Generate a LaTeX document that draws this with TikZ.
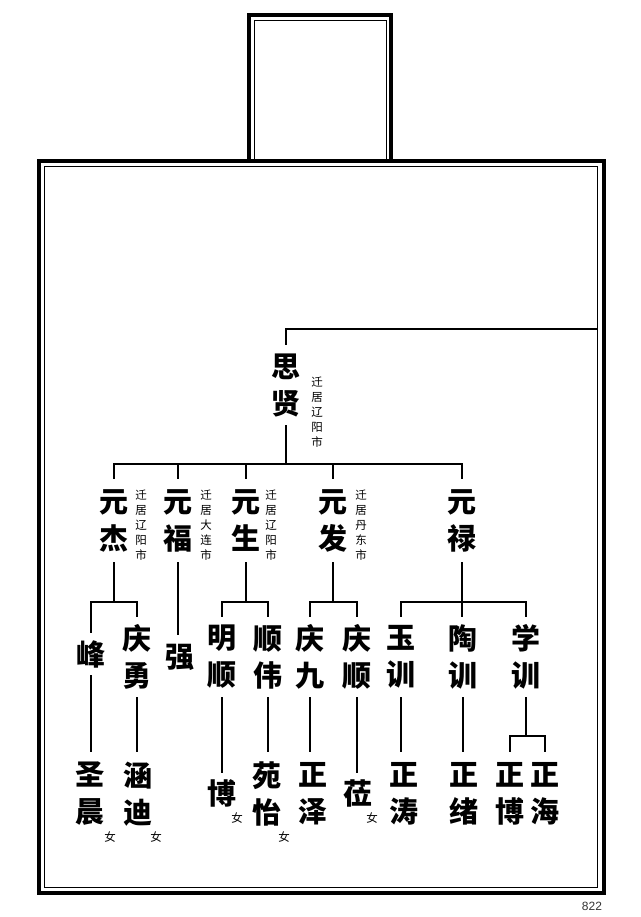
\documentclass[tikz,border=0pt]{standalone}
\usepackage{fontspec}
\newfontfamily\cjk{Noto Sans CJK SC}
\newfontfamily\numfont{Liberation Sans}
\begin{document}
\begin{tikzpicture}[x=1pt,y=-1pt,
  nm/.style={inner sep=0pt, align=center, font=\cjk\bfseries\fontsize{29}{37}\selectfont},
  ann/.style={inner sep=0pt, align=center, font=\cjk\fontsize{11.5}{15}\selectfont},
  fem/.style={inner sep=0pt, font=\cjk\fontsize{11.5}{11.5}\selectfont},
  ln/.style={line width=1.1pt},
  thickframe/.style={line width=4pt},
  thinframe/.style={line width=1pt}]
\useasboundingbox (0,0) rectangle (640,917);
% frames
\draw[thickframe] (39,161.5) rectangle (603.5,893);
\draw[thinframe] (44,167) rectangle (597.5,887.5);
\draw[thickframe] (249,161.5) |- (390.5,15) -- (390.5,161.5);
\draw[thinframe] (254.5,161.5) |- (386,20.5) -- (386,161.5);
% root
\node[nm, minimum height=80pt] (sx) at (286,385) {思\\贤};
\node[ann] (sxa) at (317,412) {迁\\居\\辽\\阳\\市};
\coordinate (edge) at (597.5,329);
\draw[ln] (sx.north) |- (edge);
% row 2
\node[nm, minimum height=83pt] (yj) at (114,520.5) {元\\杰};
\node[ann] (yja) at (141,525) {迁\\居\\辽\\阳\\市};
\node[nm, minimum height=83pt] (yf) at (178,520.5) {元\\福};
\node[ann] (yfa) at (206,525) {迁\\居\\大\\连\\市};
\node[nm, minimum height=83pt] (ys) at (246,520.5) {元\\生};
\node[ann] (ysa) at (271,525) {迁\\居\\辽\\阳\\市};
\node[nm, minimum height=83pt] (yd) at (333,520.5) {元\\发};
\node[ann] (yda) at (361,525) {迁\\居\\丹\\东\\市};
\node[nm, minimum height=83pt] (yl) at (462,520.5) {元\\禄};
\coordinate (b1) at (286,464);
\draw[ln] (sx.south) -- (b1);
\draw[ln] (yj.north) |- (yl.north |- b1) -- (yl.north);
\foreach \n in {yf,ys,yd} \draw[ln] (\n.north) -- (\n.north |- b1);
% row 3
\coordinate (b2) at (0,602);
\node[nm, minimum height=42pt] (feng) at (91,654) {峰};
\node[nm, minimum height=80pt] (qy) at (137,657) {庆\\勇};
\node[nm, minimum height=44pt] (qiang) at (180,657) {强};
\node[nm, minimum height=80pt] (ms) at (222,657) {明\\顺};
\node[nm, minimum height=80pt] (sw) at (268,657) {顺\\伟};
\node[nm, minimum height=80pt] (qj) at (310,657) {庆\\九};
\node[nm, minimum height=80pt] (qs) at (357,657) {庆\\顺};
\node[nm, minimum height=80pt] (yx) at (401,657) {玉\\训};
\node[nm, minimum height=80pt] (tx) at (463,657) {陶\\训};
\node[nm, minimum height=80pt] (xx) at (526,657) {学\\训};
\draw[ln] (yj.south) -- (yj.south |- b2);
\draw[ln] (feng.north) |- (qy.north |- b2) -- (qy.north);
\draw[ln] (yf.south) -- (yf.south |- qiang.north);
\draw[ln] (ys.south) -- (ys.south |- b2);
\draw[ln] (ms.north) |- (sw.north |- b2) -- (sw.north);
\draw[ln] (yd.south) -- (yd.south |- b2);
\draw[ln] (qj.north) |- (qs.north |- b2) -- (qs.north);
\draw[ln] (yl.south) -- (yl.south |- tx.north);
\draw[ln] (yx.north) |- (xx.north |- b2) -- (xx.north);
% row 4
\node[nm, minimum height=84pt] (sc) at (90,794) {圣\\晨};
\node[nm, minimum height=84pt] (hd) at (138,794) {涵\\迪};
\node[nm, minimum height=40pt] (bo) at (222,793) {博};
\node[nm, minimum height=84pt] (yy) at (267,794) {苑\\怡};
\node[nm, minimum height=84pt] (zz) at (313,794) {正\\泽};
\node[nm, minimum height=40pt] (li) at (358,793) {莅};
\node[nm, minimum height=84pt] (zt) at (404,794) {正\\涛};
\node[nm, minimum height=84pt] (zx) at (464,794) {正\\绪};
\node[nm, minimum height=84pt] (zb) at (510,794) {正\\博};
\node[nm, minimum height=84pt] (zh) at (545,794) {正\\海};
\draw[ln] (feng.south) -- (feng.south |- sc.north);
\draw[ln] (qy.south) -- (qy.south |- hd.north);
\draw[ln] (ms.south) -- (ms.south |- bo.north);
\draw[ln] (sw.south) -- (sw.south |- yy.north);
\draw[ln] (qj.south) -- (qj.south |- zz.north);
\draw[ln] (qs.south) -- (qs.south |- li.north);
\draw[ln] (yx.south) -- (yx.south |- zt.north);
\draw[ln] (tx.south) -- (tx.south |- zx.north);
\coordinate (b3) at (0,736);
\draw[ln] (xx.south) -- (xx.south |- b3);
\draw[ln] (zb.north) |- (zh.north |- b3) -- (zh.north);
% female marks
\node[fem] (f1) at (110,837) {女};
\node[fem] (f2) at (156,837) {女};
\node[fem] (f3) at (237,818) {女};
\node[fem] (f4) at (284,837) {女};
\node[fem] (f5) at (372,818) {女};
% page number
\node[font=\numfont\fontsize{12}{12}\selectfont, text=black!80, inner sep=0pt] (pg) at (592,906) {822};
\end{tikzpicture}
\end{document}
